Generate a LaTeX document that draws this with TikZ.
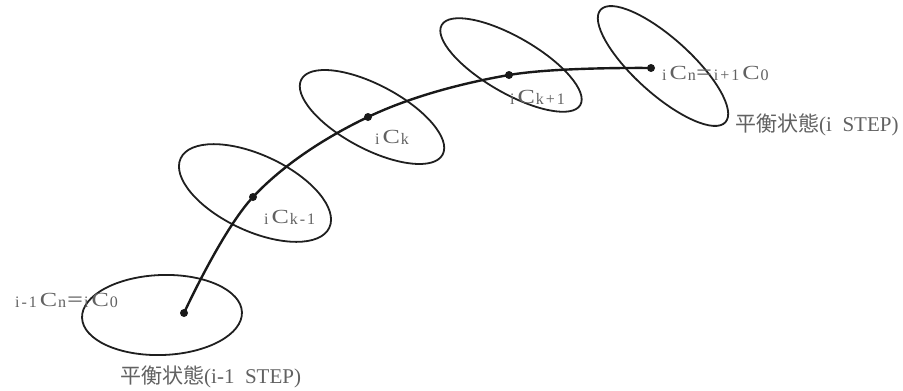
\documentclass[tikz,border=0pt]{standalone}
\usepackage{fontspec}
\setmainfont{Liberation Serif}
\newfontfamily\jp{Noto Sans CJK JP}
\newfontfamily\smallserif[LetterSpace=12]{Liberation Serif}
\newcommand{\sm}[1]{\raisebox{-1.5pt}{\fontsize{16}{16}\smallserif #1}}
\newcommand{\pC}[2]{\sm{#1}\hspace{3pt}\scalebox{1.3}[1]{C}\hspace{1pt}\sm{#2}}
\newcommand{\eqw}{{\jp\fontsize{18}{18}\selectfont ＝}}
\begin{document}
\begin{tikzpicture}[x=1pt,y=1pt,
  ring/.style={draw=black!88, line width=1.8pt},
  path/.style={draw=black!90, line width=2.4pt},
  dot/.style={circle, fill=black!90, inner sep=0pt, minimum size=8pt},
  lab/.style={text=black!62, font=\fontsize{20}{20}\selectfont, inner sep=0pt, anchor=base west},
  jplab/.style={text=black!62, font=\fontsize{21}{21}\selectfont, inner sep=0pt, anchor=base west}]
\useasboundingbox (0,0) rectangle (903,-391);
% ellipses
\draw[ring, rotate around={2:(162,-315)}] (162,-315) ellipse [x radius=80, y radius=40];
\draw[ring, rotate around={-25:(255,-193)}] (255,-193) ellipse [x radius=82, y radius=38];
\draw[ring, rotate around={-28:(372,-117)}] (372,-117) ellipse [x radius=80, y radius=32];
\draw[ring, rotate around={-30:(511,-65)}] (511,-65) ellipse [x radius=80, y radius=28];
\draw[ring, rotate around={-42:(663,-66)}] (663,-66) ellipse [x radius=84, y radius=28];
% points
\coordinate (p0) at (184,-313);
\coordinate (p1) at (253,-197);
\coordinate (p2) at (368,-117);
\coordinate (p3) at (509,-75);
\coordinate (p4) at (651,-68);
\draw[path] plot[smooth, tension=0.6] coordinates {(p0) (p1) (p2) (p3) (p4)};
\node[dot] (d0) at (p0) {};
\node[dot] (d1) at (p1) {};
\node[dot] (d2) at (p2) {};
\node[dot] (d3) at (p3) {};
\node[dot] (d4) at (p4) {};
% labels
\node[lab] (l0) at (15,-306) {\pC{i-1}{n}\eqw\pC{i}{0}};
\node[lab] (l1) at (264,-223) {\pC{i}{k-1}};
\node[lab] (l2) at (375,-143) {\pC{i}{k}};
\node[lab] (l3) at (510,-103) {\pC{i}{k+1}};
\node[lab] (l4) at (662,-79) {\pC{i}{n}\eqw\pC{i+1}{0}};
\node[jplab] (s0) at (120,-383) {{\jp 平衡状態}(i-1\ \ STEP)};
\node[jplab] (s1) at (735,-131) {{\jp 平衡状態}(i\ \ STEP)};
\end{tikzpicture}
\end{document}
